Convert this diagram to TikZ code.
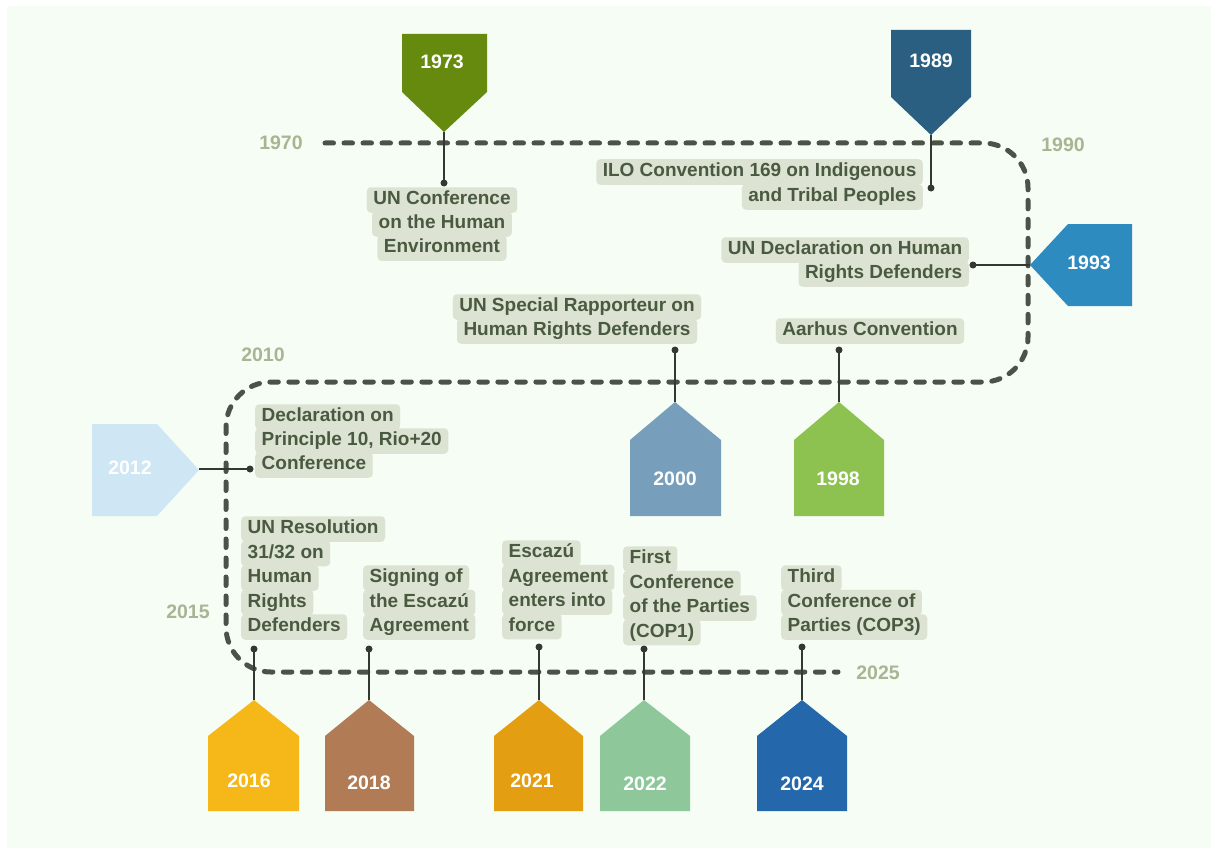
\documentclass[tikz,border=0pt]{standalone}
\usepackage{fontspec}
\usepackage{xcolor}
\setmainfont{Liberation Sans}

\definecolor{panel}{HTML}{F5FDF4}
\definecolor{linec}{HTML}{4B5247}
\definecolor{stemc}{HTML}{333833}
\definecolor{boxc}{HTML}{DCE3D3}
\definecolor{txtc}{HTML}{4A5A40}
\definecolor{axisc}{HTML}{A8B592}
\definecolor{c1973}{HTML}{668A0E}
\definecolor{c1989}{HTML}{2A5F82}
\definecolor{c1993}{HTML}{2E8BC0}
\definecolor{c1998}{HTML}{8DC150}
\definecolor{c2000}{HTML}{779FBB}
\definecolor{c2012}{HTML}{CFE6F5}
\definecolor{c2016}{HTML}{F5B818}
\definecolor{c2018}{HTML}{B07B55}
\definecolor{c2021}{HTML}{E39E12}
\definecolor{c2022}{HTML}{8DC79A}
\definecolor{c2024}{HTML}{2467AB}

\begin{document}
\begin{tikzpicture}[x=1pt,y=-1pt]
\tikzstyle{every node}=[inner sep=0pt]
\tikzstyle{yr}=[text=white,font=\bfseries\fontsize{19.5}{22}\selectfont]
\tikzstyle{axis}=[text=axisc,font=\bfseries\fontsize{19.5}{22}\selectfont]
\tikzstyle{hl}=[fill=boxc,rounded corners=4pt,text=txtc,font=\bfseries\fontsize{19}{22}\selectfont,
  inner xsep=6.5pt,text height=13.5pt,text depth=4pt,minimum height=25.5pt]
\tikzstyle{dot}=[circle,fill=stemc,minimum size=7pt]
\tikzstyle{stem}=[draw=stemc,line width=1.8pt]
\tikzstyle{tl}=[draw=linec,line width=5pt,line cap=round,dash pattern=on 8.5pt off 10.5pt]

\useasboundingbox (0,0) rectangle (1214,853);
\fill[white] (0,0) rectangle (1214,853);
\fill[panel] (7,6) rectangle (1211,848);

% the timeline
\draw[tl,rounded corners=45pt] (325,143) -- (1028,143) -- (1028,382) -- (226,382)
  -- (226,672) -- (838,672);
\node[axis] (a1970) at (281,143) {1970};
\node[axis] (a1990) at (1063,145) {1990};
\node[axis] (a2010) at (263,355) {2010};
\node[axis] (a2015) at (188,612) {2015};
\node[axis] (a2025) at (878,673) {2025};

% flags
\fill[c1973] (402,34) -- (487,34) -- (487,92) -- (444,132) -- (402,92) -- cycle;
\fill[c1989] (891,30) -- (971,30) -- (971,97) -- (931,135) -- (891,97) -- cycle;
\fill[c1993] (1132,224) -- (1132,306) -- (1068,306) -- (1030,265) -- (1068,224) -- cycle;
\fill[c2012] (92,424) -- (157,424) -- (199,470) -- (157,516) -- (92,516) -- cycle;
\fill[c2000] (630,516) -- (630,440) -- (675,402) -- (721,440) -- (721,516) -- cycle;
\fill[c1998] (794,516) -- (794,440) -- (839,402) -- (884,440) -- (884,516) -- cycle;
\fill[c2016] (208,811) -- (208,736) -- (254,700) -- (299,736) -- (299,811) -- cycle;
\fill[c2018] (325,811) -- (325,736) -- (369,700) -- (414,736) -- (414,811) -- cycle;
\fill[c2021] (494,811) -- (494,736) -- (539,700) -- (583,736) -- (583,811) -- cycle;
\fill[c2022] (600,811) -- (600,736) -- (644,700) -- (690,736) -- (690,811) -- cycle;
\fill[c2024] (757,811) -- (757,736) -- (802,700) -- (847,736) -- (847,811) -- cycle;

\node[yr] (y1973) at (442,62) {1973};
\node[yr] (y1989) at (931,61) {1989};
\node[yr] (y1993) at (1089,263) {1993};
\node[yr] (y2012) at (130,468) {2012};
\node[yr] (y2000) at (675,479) {2000};
\node[yr] (y1998) at (838,479) {1998};
\node[yr] (y2016) at (249,781) {2016};
\node[yr] (y2018) at (369,783) {2018};
\node[yr] (y2021) at (532,781) {2021};
\node[yr] (y2022) at (645,784) {2022};
\node[yr] (y2024) at (802,784) {2024};

% flag tips
\coordinate (t1973) at (444,132);
\coordinate (t1989) at (931,135);
\coordinate (t1993) at (1030,265);
\coordinate (t2012) at (199,469);
\coordinate (t2000) at (675,402);
\coordinate (t1998) at (839,402);
\coordinate (t2016) at (254,700);
\coordinate (t2018) at (369,700);
\coordinate (t2021) at (539,700);
\coordinate (t2022) at (644,700);
\coordinate (t2024) at (802,700);

% labels
\foreach \t [count=\i] in {UN Conference,on the Human,Environment}
  \node[hl] (l1973-\i) at (442,200+24*\i-24) {\t};
\foreach \t [count=\i] in {ILO Convention 169 on Indigenous,and Tribal Peoples}
  \node[hl,anchor=east] (l1989-\i) at (923,172+25*\i-25) {\t};
\foreach \t [count=\i] in {UN Declaration on Human,Rights Defenders}
  \node[hl,anchor=east] (l1993-\i) at (969,250+24*\i-24) {\t};
\foreach \t [count=\i] in {UN Special Rapporteur on,Human Rights Defenders}
  \node[hl] (l2000-\i) at (577,307+24*\i-24) {\t};
\node[hl] (l1998-1) at (870,331) {Aarhus Convention};
\foreach \t [count=\i] in {Declaration on,{Principle 10, Rio+20},Conference}
  \node[hl,anchor=west] (l2012-\i) at (255,417+24*\i-24) {\t};
\foreach \t [count=\i] in {UN Resolution,31/32 on,Human,Rights,Defenders}
  \node[hl,anchor=west] (l2016-\i) at (241,529+24.5*\i-24.5) {\t};
\foreach \t [count=\i] in {Signing of,the Escazú,Agreement}
  \node[hl,anchor=west] (l2018-\i) at (363,578+24.5*\i-24.5) {\t};
\foreach \t [count=\i] in {Escazú,Agreement,enters into,force}
  \node[hl,anchor=west] (l2021-\i) at (502,553+24.5*\i-24.5) {\t};
\foreach \t [count=\i] in {First,Conference,of the Parties,(COP1)}
  \node[hl,anchor=west] (l2022-\i) at (623,559+24.5*\i-24.5) {\t};
\foreach \t [count=\i] in {Third,Conference of,Parties (COP3)}
  \node[hl,anchor=west] (l2024-\i) at (781,578+24.5*\i-24.5) {\t};

% dots and stems
\node[dot] (d1973) at (444,183) {};
\node[dot] (d1989) at (931,188) {};
\node[dot] (d1993) at (973,265) {};
\node[dot] (d2012) at (250,469) {};
\node[dot] (d2000) at (675,350) {};
\node[dot] (d1998) at (839,350) {};
\node[dot] (d2016) at (254,649) {};
\node[dot] (d2018) at (369,649) {};
\node[dot] (d2021) at (539,647) {};
\node[dot] (d2022) at (644,649) {};
\node[dot] (d2024) at (802,647) {};
\foreach \y in {1973,1989,1993,2012,2000,1998,2016,2018,2021,2022,2024}
  \draw[stem] (t\y) -- (d\y.center);
\end{tikzpicture}
\end{document}
